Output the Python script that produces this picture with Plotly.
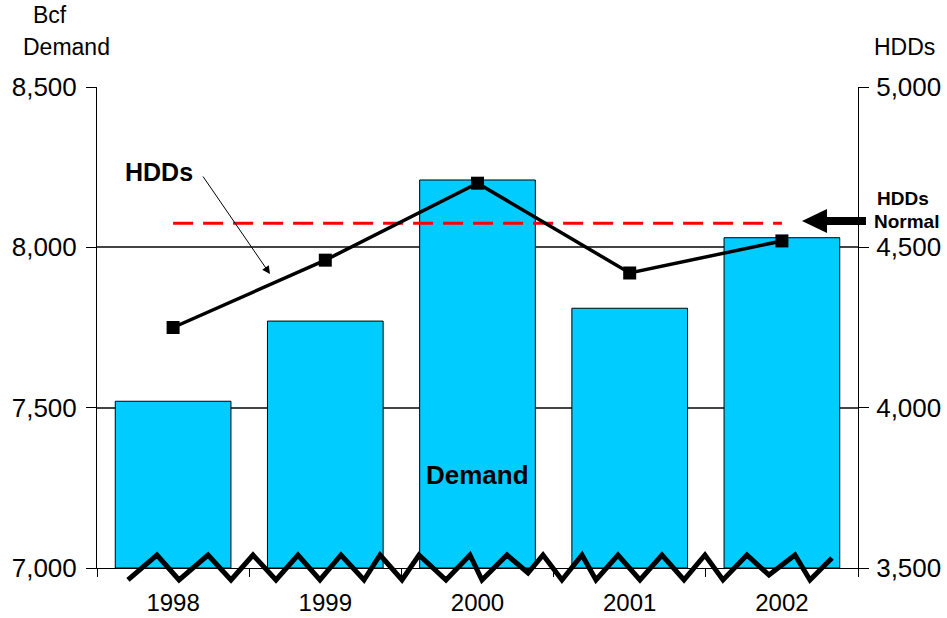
import plotly.graph_objects as go

# ---- data ----
years = ["1998", "1999", "2000", "2001", "2002"]
demand_bcf = [7520, 7770, 8210, 7810, 8030]
hdds = [4250, 4460, 4700, 4420, 4520]
hdds_normal = 4575
left_ticks = [7000, 7500, 8000, 8500]
right_ticks = [3500, 4000, 4500, 5000]

W, H = 947, 618
ML, MR, MT, MB = 97, 89, 87, 50
PW, PH = W - ML - MR, H - MT - MB


def px(x):
    return (x - ML) / PW


def py(y):
    return (H - MB - y) / PH


FONT = "Arial, Liberation Sans, sans-serif"

fig = go.Figure()

fig.add_trace(go.Bar(
    x=years, y=[v - left_ticks[0] for v in demand_bcf], base=left_ticks[0],
    marker=dict(color="#00CCFF", line=dict(color="black", width=1)),
    hoverinfo="skip", showlegend=False,
))

fig.add_trace(go.Scatter(
    x=[years[0], years[-1]], y=[hdds_normal, hdds_normal], yaxis="y2",
    mode="lines", line=dict(color="#FF0000", width=3, dash="20px,10px"),
    showlegend=False, hoverinfo="skip",
))

fig.add_trace(go.Scatter(
    x=years, y=hdds, yaxis="y2", mode="lines+markers",
    line=dict(color="black", width=3.5),
    marker=dict(symbol="square", size=13, color="black"),
    showlegend=False,
))

# broken-axis zigzag along the bottom (pixel vertices)
zig = [(128, 580), (157, 555), (179, 580), (208, 555), (231, 580), (253, 555),
       (276, 580), (298, 555), (320, 580), (341, 555), (364, 580), (380, 555),
       (402, 580), (419, 555), (446, 580), (470, 555), (482, 580), (507, 555),
       (528, 573), (543, 555), (562, 580), (582, 555), (596, 580), (618, 555),
       (640, 580), (662, 555), (684, 580), (705, 555), (723, 580), (747, 555),
       (769, 575), (795, 555), (810, 580), (832, 558)]
zpath = "M " + " L ".join(f"{px(x):.4f},{py(y):.4f}" for x, y in zig)

# big pointer arrow for the normal line
arrow = [(802, 221), (827, 209), (827, 217), (866, 217), (866, 225),
         (827, 225), (827, 233)]
apath = "M " + " L ".join(f"{px(x):.4f},{py(y):.4f}" for x, y in arrow) + " Z"

shapes = [
    dict(type="path", path=zpath, xref="paper", yref="paper",
         line=dict(color="black", width=5)),
    dict(type="path", path=apath, xref="paper", yref="paper",
         fillcolor="black", line=dict(color="black", width=0)),
]


def label(text, x, y, size, bold=False):
    return dict(text=f"<b>{text}</b>" if bold else text,
                x=px(x), y=py(y), xref="paper", yref="paper",
                xanchor="center", yanchor="middle", showarrow=False,
                font=dict(family=FONT, size=size, color="black"))


annotations = [
    label("Bcf", 50, 15, 23),
    label("Demand", 66, 47, 23),
    label("HDDs", 904, 47, 23),
    label("HDDs", 159, 172, 25, bold=True),
    label("HDDs", 903, 198, 19, bold=True),
    label("Normal", 906, 222, 19, bold=True),
    dict(text="<b>Demand</b>", x=2, y=7290, xref="x", yref="y",
         showarrow=False, font=dict(family=FONT, size=26, color="black")),
    dict(text="", x=px(270), y=py(274), xref="paper", yref="paper",
         ax=-68, ay=-99, showarrow=True, arrowhead=2, arrowsize=1.6,
         arrowwidth=1, arrowcolor="black"),
]

fig.update_layout(
    width=W, height=H,
    margin=dict(l=ML, r=MR, t=MT, b=MB),
    paper_bgcolor="white", plot_bgcolor="white",
    bargap=0.24,
    font=dict(family=FONT, size=22, color="black"),
    xaxis=dict(
        type="category", range=[-0.5, 4.5], tickson="boundaries",
        ticks="outside", ticklen=8, tickcolor="black",
        showline=True, linecolor="black", linewidth=1,
        showgrid=False, tickfont=dict(size=24), ticklabelstandoff=13,
        automargin=False,
    ),
    yaxis=dict(
        range=[left_ticks[0], left_ticks[-1]], tickvals=left_ticks,
        tickformat=",", ticks="outside", ticklen=10, tickcolor="black",
        showline=True, linecolor="black", linewidth=1,
        showgrid=True, gridcolor="#444444", gridwidth=2,
        zeroline=False, tickfont=dict(size=26), ticklabelstandoff=4,
        automargin=False,
    ),
    yaxis2=dict(
        range=[right_ticks[0], right_ticks[-1]], tickvals=right_ticks,
        tickformat=",", overlaying="y", side="right",
        ticks="outside", ticklen=10, tickcolor="black",
        showline=True, linecolor="black", linewidth=1,
        showgrid=False, zeroline=False, tickfont=dict(size=26),
        ticklabelstandoff=2, automargin=False,
    ),
    shapes=shapes,
    annotations=annotations,
)

fig.write_html("out.html")
